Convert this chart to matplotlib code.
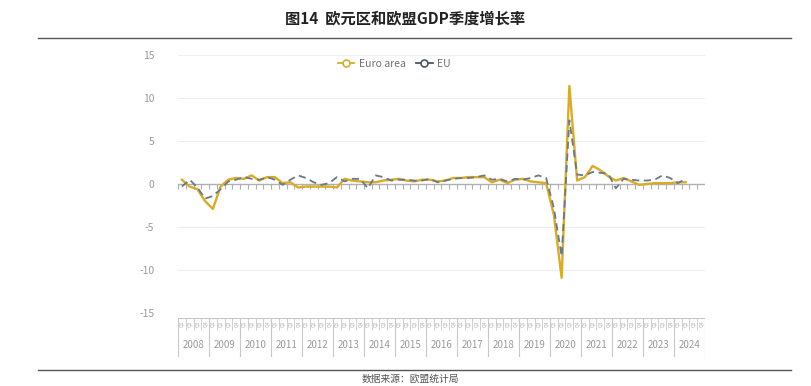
import matplotlib
matplotlib.use("Agg")
import matplotlib.pyplot as plt
from matplotlib.lines import Line2D
import numpy as np

plt.rcParams['font.family'] = ['Noto Sans CJK SC', 'DejaVu Sans']

years = [str(y) for y in range(2008, 2025)]
quarters = ["Q1", "Q2", "Q3", "Q4"]

# quarterly GDP growth, % q/q (2008Q1 .. 2024Q2)
euro_area = [0.5, -0.3, -0.6, -2.0,
             -2.9, -0.3, 0.5, 0.7,
             0.6, 1.0, 0.4, 0.8,
             0.8, 0.1, 0.2, -0.4,
             -0.3, -0.3, -0.3, -0.3,
             -0.4, 0.6, 0.4, 0.3,
             0.2, 0.2, 0.4, 0.5,
             0.6, 0.4, 0.3, 0.5,
             0.5, 0.3, 0.4, 0.7,
             0.7, 0.8, 0.8, 0.8,
             0.2, 0.5, 0.1, 0.5,
             0.6, 0.3, 0.2, 0.1,
             -3.6, -10.9, 11.4, 0.4,
             0.8, 2.1, 1.6, 0.9,
             0.4, 0.7, 0.3, -0.1,
             0.0, 0.1, 0.1, 0.1,
             0.2, 0.2]
eu = [-0.3, 0.5, -0.4, -1.7,
      -1.4, -0.6, 0.3, 0.5,
      0.8, 0.6, 0.5, 0.8,
      0.5, -0.1, 0.5, 1.0,
      0.7, 0.2, -0.1, 0.1,
      0.8, 0.3, 0.6, 0.6,
      -0.5, 1.0, 0.8, 0.4,
      0.5, 0.5, 0.4, 0.4,
      0.6, 0.2, 0.4, 0.6,
      0.7, 0.7, 0.8, 1.0,
      0.5, 0.6, 0.3, 0.6,
      0.5, 0.7, 1.0, 0.7,
      -2.8, -8.4, 7.4, 1.1,
      1.0, 1.4, 1.3, 1.2,
      -0.5, 0.6, 0.5, 0.4,
      0.4, 0.5, 1.0, 0.7,
      0.1, 0.6]
yticks = [15, 10, 5, 0, -5, -10, -15]

n_cat = len(years) * len(quarters)
x = np.arange(len(euro_area))

W, H = 811, 386
fig = plt.figure(figsize=(W / 100, H / 100), dpi=100)

# main plot area
ax = fig.add_axes([178 / W, 1 - 313 / H, 527 / W, 258 / H])
ax.set_xlim(-0.5, n_cat - 0.5)
ax.set_ylim(-15, 15)
for s in ax.spines.values():
    s.set_visible(False)
for v in yticks:
    if v not in (0, -15):
        ax.axhline(v, color="#eeeeee", lw=0.8, zorder=0)
ax.axhline(0, color="#b0b0b0", lw=1.0, zorder=1)
bounds = np.arange(n_cat + 1) - 0.5
ax.vlines(bounds, -0.6, 0, color="#b0b0b0", lw=0.8, zorder=1)

ax.plot(x, eu, color="#6b7889", lw=1.3, dashes=(4, 2.5), zorder=3)
ax.plot(x, euro_area, color="#d8ac24", lw=1.7, zorder=2)

ax.set_yticks(yticks)
ax.set_yticklabels([str(v) for v in yticks])
ax.tick_params(axis="y", length=0, pad=17, labelsize=7.5, labelcolor="#9a9a9a")
ax.set_xticks([])

handles = [
    Line2D([], [], color="#d8ac24", lw=1.3, marker="o", markersize=5,
           markerfacecolor="white", markeredgewidth=1.2),
    Line2D([], [], color="#4a5566", lw=1.3, marker="o", markersize=5,
           markerfacecolor="white", markeredgewidth=1.2),
]
leg = ax.legend(handles, ["Euro area", "EU"], loc="center", bbox_to_anchor=(0.41, 0.965),
                ncol=2, frameon=False, fontsize=7.5, handlelength=1.6,
                columnspacing=1.0, handletextpad=0.4)
for t in leg.get_texts():
    t.set_color("#707070")

# category axis box
cax = fig.add_axes([178 / W, 1 - 357 / H, 527 / W, 39 / H])
cax.set_xlim(-0.5, n_cat - 0.5)
cax.set_ylim(0, 1)
cax.axis("off")
cax.axhline(1, color="#c8c8c8", lw=0.8)
cax.vlines(bounds, 0.68, 1, color="#c8c8c8", lw=0.6)
for i in range(n_cat):
    cax.text(i, 0.84, quarters[i % 4], rotation=90, fontsize=3.6,
             color="#b0b0b0", ha="center", va="center")
ybounds = np.arange(len(years) + 1) * 4 - 0.5
cax.vlines(ybounds, 0, 1, color="#c8c8c8", lw=0.8)
for k, yr in enumerate(years):
    cax.text(k * 4 + 1.5, 0.3, yr, fontsize=7, color="#9a9a9a",
             ha="center", va="center")

# title and rules
fig.text(405 / W, 1 - 18 / H, "图14  欧元区和欧盟GDP季度增长率", ha="center", va="center",
         fontsize=11, fontweight="bold", color="#222222")
fig.add_artist(Line2D([38 / W, 791 / W], [1 - 38 / H, 1 - 38 / H], color="#555555", lw=1.0))
fig.add_artist(Line2D([38 / W, 791 / W], [1 - 370 / H, 1 - 370 / H], color="#555555", lw=1.0))
fig.text(410 / W, 1 - 379 / H, "数据来源：欧盟统计局", ha="center", va="center",
         fontsize=7, color="#555555")

fig.savefig("out.png", dpi=100)
